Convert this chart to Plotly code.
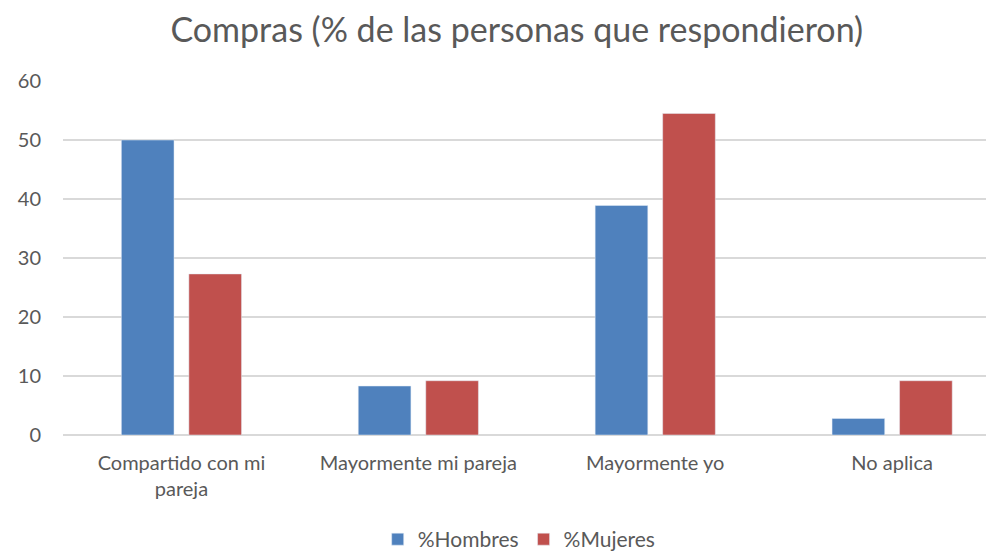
import plotly.graph_objects as go

# Data
categories = ["Compartido con mi<br>pareja", "Mayormente mi pareja", "Mayormente yo", "No aplica"]
hombres = [50.0, 8.3, 38.9, 2.8]
mujeres = [27.3, 9.2, 54.5, 9.2]
y_ticks = [0, 10, 20, 30, 40, 50, 60]

font_family = "Lato, Open Sans, sans-serif"
text_color = "#595959"

fig = go.Figure()
fig.add_trace(go.Bar(name="%Hombres", x=categories, y=hombres, marker_color="#4F81BD"))
fig.add_trace(go.Bar(name="%Mujeres", x=categories, y=mujeres, marker_color="#C0504D"))

# page body keeps an 8px margin, so the figure is a bit smaller than the window
fig.update_layout(
    width=986, height=552,
    barmode="group", bargap=0.43, bargroupgap=0.22,
    paper_bgcolor="white", plot_bgcolor="white",
    margin=dict(l=55, r=0, t=73, b=125),
    font=dict(family=font_family, color=text_color, size=20),
    title=dict(text="Compras (% de las personas que respondieron)",
               x=0.516, xanchor="center", y=0.96, yanchor="middle",
               font=dict(size=34, color=text_color)),
    legend=dict(orientation="h", x=0.49, xanchor="center",
                yref="container", y=0.0, yanchor="bottom",
                font=dict(size=21, color=text_color), itemwidth=30),
    showlegend=True,
)
fig.update_yaxes(range=[0, 60], tickvals=y_ticks, showgrid=True, gridcolor="#d9d9d9",
                 gridwidth=1.5, zeroline=True, zerolinecolor="#d9d9d9", zerolinewidth=1.5,
                 ticklabelstandoff=21, tickfont=dict(size=20), automargin=False)
fig.update_xaxes(range=[-0.5, 3.43], showline=False, tickfont=dict(size=20),
                 ticklabelstandoff=14, automargin=False)

fig.write_html("out.html")
